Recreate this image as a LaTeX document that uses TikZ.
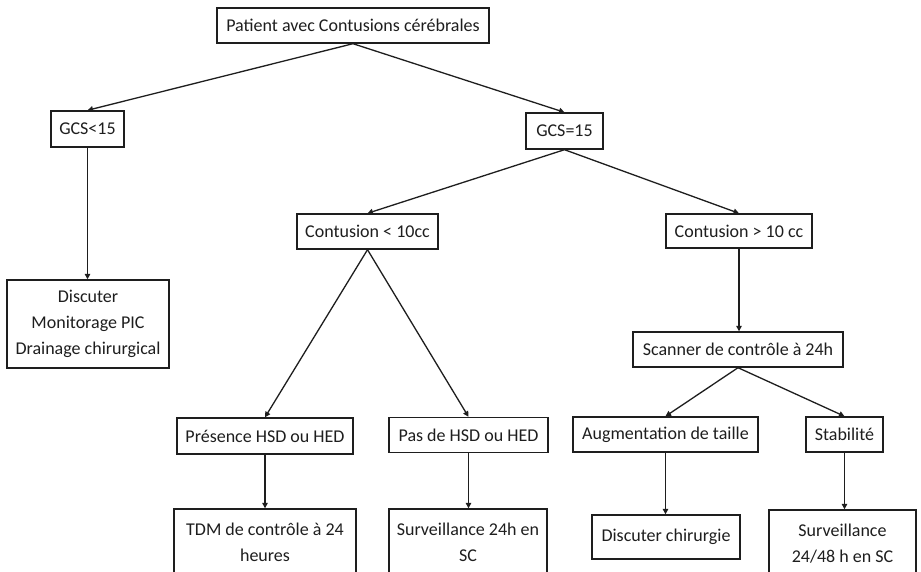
\documentclass[tikz,border=0pt]{standalone}
\usepackage{fontspec}
\setmainfont{Carlito}
\usetikzlibrary{arrows.meta}
\definecolor{ink}{HTML}{1E1E1E}
\begin{document}
\begin{tikzpicture}[x=1pt,y=-1pt,
  box/.style={draw=ink,line width=1.4pt,fill=white,inner sep=0pt,
    align=center,text=ink,font=\fontsize{18}{26}\selectfont},
  link/.style={draw=ink,line width=1.3pt,-{Triangle[length=5.5pt,width=5.5pt]}}]
\useasboundingbox (0,0) rectangle (921,572);
\clip (0,0) rectangle (921,572);
\fill[white] (0,0) rectangle (921,572);

% boxes
\node[box,minimum width=272pt,minimum height=35pt] (top)   at (353,25.5)  {Patient avec Contusions cérébrales};
\node[box,minimum width=73pt, minimum height=36pt] (gcsl)  at (87.5,129)  {GCS<15};
\node[box,minimum width=77pt, minimum height=36pt] (gcse)  at (564.5,131) {GCS=15};
\node[box,minimum width=162pt,minimum height=88pt] (disc)  at (88,324)    {Discuter\\Monitorage PIC\\Drainage chirurgical};
\node[box,minimum width=141pt,minimum height=35pt] (cless) at (367.5,231.5) {Contusion < 10cc};
\node[box,minimum width=146pt,minimum height=34pt] (cmore) at (739,231)   {Contusion > 10 cc};
\node[box,minimum width=210pt,minimum height=35pt] (scan)  at (738,349.5) {Scanner de contrôle à 24h};
\node[box,minimum width=176pt,minimum height=36pt] (pres)  at (265,436)   {Présence HSD ou HED};
\node[box,minimum width=159pt,minimum height=35pt] (pas)   at (468.5,435) {Pas de HSD ou HED};
\node[box,minimum width=185pt,minimum height=35pt] (aug)   at (665.5,434.5) {Augmentation de taille};
\node[box,minimum width=77pt, minimum height=35pt] (stab)  at (844.5,434.5) {Stabilité};
\node[box,minimum width=148pt,minimum height=44pt] (chir)  at (666,537)   {Discuter chirurgie};
\node[box,minimum width=182pt,minimum height=66pt] (tdm)   at (265,542)   {TDM de contrôle à 24\\heures};
\node[box,minimum width=158pt,minimum height=66pt] (surv)  at (468,542)   {Surveillance 24h en\\SC};
\node[box,minimum width=147pt,minimum height=67pt] (survb) at (842.5,543.5) {Surveillance\\24/48 h en SC};

% connectors
\draw[link] (top.south) -- (gcsl.north);
\draw[link] (top.south) -- (gcse.north);
\draw[link] (gcsl.south) -- (gcsl.south |- disc.north);
\draw[link] (gcse.south) -- (cless.north);
\draw[link] (gcse.south) -- (cmore.north);
\draw[link] (cless.south) -- (pres.north);
\draw[link] (cless.south) -- (pas.north);
\draw[link] (cmore.south) -- (cmore.south |- scan.north);
\draw[link] (scan.south) -- (aug.north);
\draw[link] (scan.south) -- (stab.north);
\draw[link] (pres.south) -- (pres.south |- tdm.north);
\draw[link] (pas.south) -- (pas.south |- surv.north);
\draw[link] (aug.south) -- (aug.south |- chir.north);
\draw[link] (stab.south) -- (stab.south |- survb.north);
\end{tikzpicture}
\end{document}
